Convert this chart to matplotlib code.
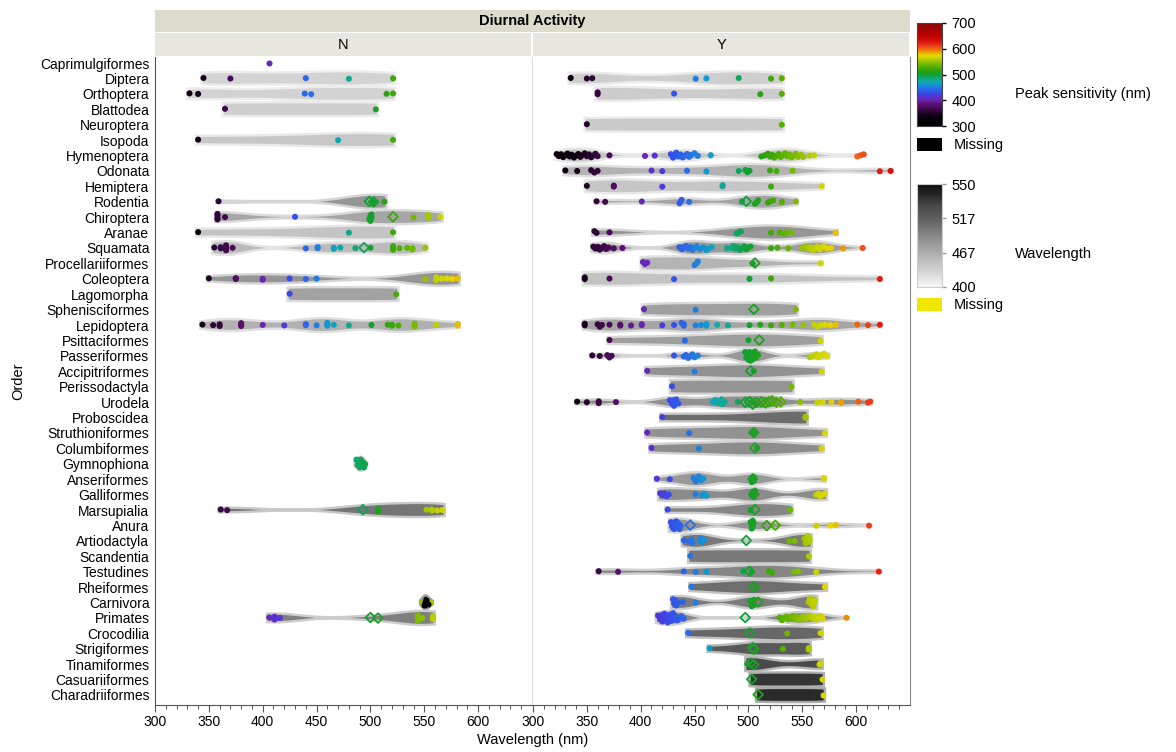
import numpy as np
import matplotlib
matplotlib.use("Agg")
import matplotlib.pyplot as plt
from matplotlib.colors import LinearSegmentedColormap, Normalize
from matplotlib.patches import Rectangle, Polygon

plt.rcParams['font.family'] = ['Liberation Sans', 'DejaVu Sans']

# ---------------------------------------------------------------- data
orders = ["Caprimulgiformes", "Diptera", "Orthoptera", "Blattodea", "Neuroptera",
          "Isopoda", "Hymenoptera", "Odonata", "Hemiptera", "Rodentia", "Chiroptera",
          "Aranae", "Squamata", "Procellariiformes", "Coleoptera", "Lagomorpha",
          "Sphenisciformes", "Lepidoptera", "Psittaciformes", "Passeriformes",
          "Accipitriformes", "Perissodactyla", "Urodela", "Proboscidea",
          "Struthioniformes", "Columbiformes", "Gymnophiona", "Anseriformes",
          "Galliformes", "Marsupialia", "Anura", "Artiodactyla", "Scandentia",
          "Testudines", "Rheiformes", "Carnivora", "Primates", "Crocodilia",
          "Strigiformes", "Tinamiformes", "Casuariiformes", "Charadriiformes"]

# Diurnal activity = N : peak sensitivities (nm), filled markers
n_caprimulgiformes = [406]
n_diptera = [345, 370, 440, 480, 521]
n_orthoptera = [332, 340, 439, 445, 515, 521]
n_blattodea = [365, 505]
n_isopoda = [340, 470, 521]
n_rodentia = [359, 503, 503, 503, 513]
n_chiroptera = [358, 358, 358, 358, 365, 430, 499, 500, 500, 501, 501, 540,
                554, 554, 554, 565]
n_aranae = [340, 480, 521]
n_squamata = [355, 361, 361, 366, 366, 366, 366, 372, 440, 451, 451, 466, 466,
              472, 486, 500, 521, 521, 521, 527, 534, 539, 539, 551]
n_coleoptera = [350, 375, 375, 400, 400, 425, 440, 450, 551, 561, 561, 561,
                566, 571, 576, 581]
n_lagomorpha = [425, 524]
n_lepidoptera = [344, 354, 360, 360, 380, 380, 380, 400, 420, 440, 440, 450,
                 460, 460, 460, 466, 480, 501, 516, 520, 520, 526, 541, 541,
                 541, 561, 581, 581]
n_gymnophiona = [487, 488, 489, 490, 490, 491, 492, 493, 494, 495]
n_marsupialia = [361, 367, 507, 507, 507, 552, 557, 557, 562, 567]
n_carnivora = [548, 556]
n_primates = [406, 411, 411, 411, 416, 544, 544, 544, 544, 548, 558, 558, 558]

# Diurnal activity = N : open markers
n_rodentia_open = [499, 503]
n_chiroptera_open = [521]
n_squamata_open = [494]
n_marsupialia_open = [493]
n_primates_open = [500, 507]

# Diurnal activity = N : wavelength known, peak sensitivity missing
n_carnivora_missing = [550, 551, 552, 553]

# Diurnal activity = Y : filled markers
y_diptera = [335, 350, 355, 451, 461, 491, 521, 531]
y_orthoptera = [360, 360, 431, 511, 531]
y_neuroptera = [350, 531]
y_hymenoptera = [322, 324, 326, 328, 330, 332, 334, 336, 338, 340, 342, 344,
                 346, 348, 350, 352, 354, 356, 358, 360, 371, 404, 413, 428,
                 430, 431, 433, 435, 437, 439, 441, 443, 445, 447, 450, 453,
                 465, 512, 515, 518, 520, 522, 524, 526, 528, 530, 532, 534,
                 536, 538, 540, 542, 544, 546, 549, 551, 557, 561, 601, 604, 607]
y_odonata = [330, 341, 354, 357, 360, 410, 420, 443, 461, 491, 497, 499, 501,
             520, 526, 541, 622, 632]
y_hemiptera = [350, 375, 375, 420, 476, 476, 521, 568]
y_rodentia = [359, 367, 401, 436, 437, 438, 445, 494, 506, 508, 509, 518, 520,
              523, 531, 544]
y_aranae = [357, 359, 371, 489, 491, 493, 521, 529, 533, 535, 540, 581]
y_squamata = [356, 358, 360, 362, 364, 366, 368, 370, 375, 383, 436, 438, 440,
              442, 444, 446, 448, 450, 452, 455, 458, 461, 463, 466, 480, 484,
              486, 488, 490, 492, 494, 496, 498, 500, 502, 521, 527, 537, 550,
              553, 556, 558, 560, 562, 564, 566, 568, 570, 573, 577, 588, 606]
y_procellariiformes = [402, 404, 406, 450, 452, 453, 504, 567]
y_coleoptera = [348, 348, 371, 431, 501, 521, 622]
y_sphenisciformes = [403, 451, 544]
y_lepidoptera = [348, 348, 360, 362, 364, 371, 381, 381, 391, 401, 401, 420,
                 431, 438, 440, 440, 451, 456, 461, 461, 471, 481, 501, 511,
                 521, 531, 541, 551, 561, 564, 567, 571, 576, 581, 601, 611, 622]
y_psittaciformes = [371, 441, 500, 567]
y_passeriformes = [355, 362, 369, 371, 373, 431, 440, 442, 444, 446, 448, 450,
                   453, 497, 498, 499, 500, 500, 501, 501, 502, 502, 503, 503,
                   504, 505, 506, 507, 509, 557, 560, 563, 565, 567, 570, 573]
y_accipitriformes = [406, 450, 505, 568]
y_perissodactyla = [429, 540]
y_urodela = [341, 350, 361, 361, 377, 427, 429, 430, 431, 432, 433, 435, 467,
             469, 471, 473, 476, 478, 490, 505, 548, 564, 569, 577, 586, 586,
             602, 611, 613]
y_proboscidea = [420, 553, 553]
y_struthioniformes = [406, 445, 505, 571]
y_columbiformes = [410, 454, 508, 568]
y_anseriformes = [415, 427, 449, 451, 452, 454, 456, 458, 503, 504, 505, 505,
                  570, 570]
y_galliformes = [418, 420, 422, 424, 426, 451, 457, 459, 461, 503, 504, 505,
                 505, 506, 563, 565, 567, 569, 571]
y_marsupialia = [425, 502, 539]
y_anura = [428, 429, 430, 431, 432, 433, 434, 435, 436, 437, 502, 503, 503,
           504, 504, 505, 563, 576, 581, 612]
y_artiodactyla = [440, 445, 447, 448, 455, 456, 457, 459, 538, 543, 552, 553,
                  554, 555, 556, 557]
y_scandentia = [446, 556]
y_testudines = [361, 379, 440, 451, 461, 495, 503, 519, 522, 542, 546, 563, 621]
y_rheiformes = [447, 507, 571]
y_carnivora = [430, 431, 432, 433, 434, 439, 451, 502, 503, 504, 505, 505, 556,
               557, 558, 559, 560, 561, 562]
y_primates = [416, 418, 419, 420, 421, 422, 423, 424, 425, 426, 427, 428, 429,
              430, 431, 432, 434, 436, 438, 440, 529, 531, 533, 535, 537, 539,
              541, 543, 545, 547, 549, 551, 553, 555, 557, 559, 561, 563, 565,
              567, 569, 591]
y_crocodilia = [444, 536, 567]
y_strigiformes = [464, 532, 556, 556]
y_tinamiformes = [499, 566, 567]
y_casuariiformes = [568]
y_charadriiformes = [569]

# Diurnal activity = Y : open markers
y_rodentia_open = [498]
y_procellariiformes_open = [506]
y_sphenisciformes_open = [505]
y_psittaciformes_open = [510]
y_accipitriformes_open = [502]
y_urodela_open = [475, 497, 501, 504, 507, 512, 516, 519, 522, 526, 530]
y_struthioniformes_open = [505]
y_columbiformes_open = [506]
y_anseriformes_open = [504]
y_galliformes_open = [505]
y_marsupialia_open = [506]
y_anura_open = [446, 517, 525]
y_artiodactyla_open = [498]
y_testudines_open = [501]
y_rheiformes_open = [505]
y_carnivora_open = [509]
y_primates_open = [497]
y_crocodilia_open = [501]
y_strigiformes_open = [504, 505]
y_tinamiformes_open = [502, 505]
y_casuariiformes_open = [503]
y_charadriiformes_open = [509]

panel_labels = ["N", "Y"]
x_ticks = [300, 350, 400, 450, 500, 550, 600]
sens_ticks = [300, 400, 500, 600, 700]
wave_ticks = [400, 467, 517, 550]

# ---------------------------------------------------------------- grouping
panels = {
    "N": {
        "filled": {"Caprimulgiformes": n_caprimulgiformes, "Diptera": n_diptera,
                   "Orthoptera": n_orthoptera, "Blattodea": n_blattodea,
                   "Isopoda": n_isopoda, "Rodentia": n_rodentia,
                   "Chiroptera": n_chiroptera, "Aranae": n_aranae,
                   "Squamata": n_squamata, "Coleoptera": n_coleoptera,
                   "Lagomorpha": n_lagomorpha, "Lepidoptera": n_lepidoptera,
                   "Gymnophiona": n_gymnophiona, "Marsupialia": n_marsupialia,
                   "Carnivora": n_carnivora, "Primates": n_primates},
        "open": {"Rodentia": n_rodentia_open, "Chiroptera": n_chiroptera_open,
                 "Squamata": n_squamata_open, "Marsupialia": n_marsupialia_open,
                 "Primates": n_primates_open},
        "missing": {"Carnivora": n_carnivora_missing},
    },
    "Y": {
        "filled": {"Diptera": y_diptera, "Orthoptera": y_orthoptera,
                   "Neuroptera": y_neuroptera, "Hymenoptera": y_hymenoptera,
                   "Odonata": y_odonata, "Hemiptera": y_hemiptera,
                   "Rodentia": y_rodentia, "Aranae": y_aranae,
                   "Squamata": y_squamata, "Procellariiformes": y_procellariiformes,
                   "Coleoptera": y_coleoptera, "Sphenisciformes": y_sphenisciformes,
                   "Lepidoptera": y_lepidoptera, "Psittaciformes": y_psittaciformes,
                   "Passeriformes": y_passeriformes,
                   "Accipitriformes": y_accipitriformes,
                   "Perissodactyla": y_perissodactyla, "Urodela": y_urodela,
                   "Proboscidea": y_proboscidea,
                   "Struthioniformes": y_struthioniformes,
                   "Columbiformes": y_columbiformes, "Anseriformes": y_anseriformes,
                   "Galliformes": y_galliformes, "Marsupialia": y_marsupialia,
                   "Anura": y_anura, "Artiodactyla": y_artiodactyla,
                   "Scandentia": y_scandentia, "Testudines": y_testudines,
                   "Rheiformes": y_rheiformes, "Carnivora": y_carnivora,
                   "Primates": y_primates, "Crocodilia": y_crocodilia,
                   "Strigiformes": y_strigiformes, "Tinamiformes": y_tinamiformes,
                   "Casuariiformes": y_casuariiformes,
                   "Charadriiformes": y_charadriiformes},
        "open": {"Rodentia": y_rodentia_open,
                 "Procellariiformes": y_procellariiformes_open,
                 "Sphenisciformes": y_sphenisciformes_open,
                 "Psittaciformes": y_psittaciformes_open,
                 "Accipitriformes": y_accipitriformes_open,
                 "Urodela": y_urodela_open,
                 "Struthioniformes": y_struthioniformes_open,
                 "Columbiformes": y_columbiformes_open,
                 "Anseriformes": y_anseriformes_open,
                 "Galliformes": y_galliformes_open,
                 "Marsupialia": y_marsupialia_open, "Anura": y_anura_open,
                 "Artiodactyla": y_artiodactyla_open,
                 "Testudines": y_testudines_open, "Rheiformes": y_rheiformes_open,
                 "Carnivora": y_carnivora_open, "Primates": y_primates_open,
                 "Crocodilia": y_crocodilia_open,
                 "Strigiformes": y_strigiformes_open,
                 "Tinamiformes": y_tinamiformes_open,
                 "Casuariiformes": y_casuariiformes_open,
                 "Charadriiformes": y_charadriiformes_open},
        "missing": {},
    },
}

# ---------------------------------------------------------------- colour scales
spectrum_stops = [
    (300, "#000000"), (340, "#0c000e"), (355, "#2c0634"), (370, "#470a55"),
    (385, "#5e1078"), (400, "#6a26ae"), (415, "#5533d6"), (430, "#3352ec"),
    (445, "#2a6ee6"), (460, "#1296d2"), (470, "#10a8b0"), (485, "#10a87a"),
    (500, "#10a030"), (515, "#2fa012"), (530, "#52b000"), (545, "#80bc00"),
    (555, "#a8c800"), (565, "#ccd400"), (575, "#e6d800"), (585, "#ecaa00"),
    (595, "#ee7a10"), (610, "#ec4418"), (625, "#e01810"), (650, "#c00000"),
    (700, "#8a0a0a")]
sens_norm = Normalize(300, 700)
spectrum = LinearSegmentedColormap.from_list(
    "spectrum", [(sens_norm(v), c) for v, c in spectrum_stops])
MISSING_SENS = "#000000"
MISSING_WAVE = "#f0e600"

# grey ramp of the wavelength scale (value -> grey level)
grey_vals = [400, 430, 450, 470, 485, 500, 517, 530, 540, 550]
grey_levels = [0.97, 0.83, 0.76, 0.66, 0.58, 0.48, 0.37, 0.28, 0.15, 0.06]


def wave_level(v):
    """Position on the wavelength legend bar (0 = bottom, 1 = top)."""
    return float(np.interp(v, wave_ticks, [0.0, 1 / 3, 2 / 3, 1.0]))


def grey_of(v):
    g = float(np.interp(v, grey_vals, grey_levels))
    return (g, g, g)


def violin_profile(vals):
    v = np.asarray(vals, float)
    xs = np.linspace(v.min() - 2.0, v.max() + 2.0, 240)
    bw = max(2.5, 1.4 * v.std() / np.sqrt(len(v)))
    dens = np.exp(-0.5 * ((xs[:, None] - v[None, :]) / bw) ** 2).sum(axis=1)
    hw = 0.46 * np.maximum(dens / dens.max(), 0.1)
    return xs, hw


def jitter_offsets(vals, start=0):
    v = np.asarray(vals, float)
    off = np.zeros(len(v))
    for rank, i in enumerate(np.argsort(v, kind="stable")):
        near = np.sum(np.abs(v - v[i]) <= 3.0)
        amp = min(0.33, 0.03 + 0.06 * (near - 1))
        off[i] = amp * (2 * (((rank + start) * 0.6180339887) % 1.0) - 1)
    return off


# ---------------------------------------------------------------- figure
W, H = 1176, 752
fig = plt.figure(figsize=(W / 100, H / 100), dpi=100)


def fx(px):
    return px / W


def fy(py):
    return 1 - py / H


top, bottom = 57, 705
panel_px = {"N": (155, 532), "Y": (533, 910)}
row_of = {name: i for i, name in enumerate(orders)}

axes = {}
for key in panel_labels:
    x0, x1 = panel_px[key]
    ax = fig.add_axes([fx(x0), fy(bottom), (x1 - x0) / W, (bottom - top) / H])
    axes[key] = ax
    ax.set_xlim(300, 650)
    ax.set_ylim(len(orders) - 1 + 0.65, -0.39)
    ax.set_xticks(x_ticks)
    ax.set_xticks(np.arange(300, 650, 10), minor=True)
    ax.tick_params(axis="x", which="major", length=5, width=0.8, color="#555555",
                   labelsize=10, pad=2)
    ax.tick_params(axis="x", which="minor", length=3, width=0.7, color="#555555")
    ax.spines["top"].set_visible(False)
    ax.spines["bottom"].set_color("#555555")

    data = panels[key]
    for name in orders:
        filled = data["filled"].get(name, [])
        opened = data["open"].get(name, [])
        missing = data["missing"].get(name, [])
        allv = list(filled) + list(opened) + list(missing)
        if not allv:
            continue
        r = row_of[name]
        if len(allv) >= 2:
            xs, hw = violin_profile(allv)
            fill = grey_of(np.mean(allv))
            edge = tuple(0.4 * c + 0.6 for c in fill)
            poly = np.column_stack([np.concatenate([xs, xs[::-1]]),
                                    np.concatenate([r - hw, (r + hw)[::-1]])])
            ax.add_patch(Polygon(poly, closed=True, facecolor=fill,
                                 edgecolor=edge, linewidth=1.7, zorder=2))
        if filled:
            f = np.asarray(filled, float)
            ax.scatter(f, r + jitter_offsets(f), s=19, c=spectrum(sens_norm(f)),
                       linewidths=0, zorder=3)
        if missing:
            m = np.asarray(missing, float)
            ax.scatter(m, r + jitter_offsets(m, 3), s=19, c=MISSING_SENS,
                       linewidths=0, zorder=3)
        if opened:
            o = np.asarray(opened, float)
            ax.scatter(o, r + jitter_offsets(o, 5), s=24, marker="D",
                       facecolors="none", edgecolors=spectrum(sens_norm(o)),
                       linewidths=1.3, zorder=4)

ax_n, ax_y = axes["N"], axes["Y"]
ax_n.set_yticks(range(len(orders)))
ax_n.set_yticklabels(orders, fontsize=10)
ax_n.tick_params(axis="y", length=0, pad=4)
ax_n.spines["left"].set_color("#555555")
ax_n.spines["right"].set_color("#dddddd")
ax_y.set_yticks([])
ax_y.spines["left"].set_visible(False)
ax_y.spines["right"].set_color("#8a8a8a")

fig.text(fx(18), fy(381), "Order", rotation=90, ha="center", va="center",
         fontsize=10.5)
fig.text(fx(533), fy(740), "Wavelength (nm)", ha="center", va="center",
         fontsize=10.5)

# header bands
fig.patches.append(Rectangle((fx(155), fy(32)), (910 - 155) / W, 22 / H,
                             transform=fig.transFigure, facecolor="#dcdbcc",
                             edgecolor="none"))
fig.text(fx(532), fy(21), "Diurnal Activity", ha="center", va="center",
         fontsize=10.5, fontweight="bold")
for key in panel_labels:
    x0, x1 = panel_px[key]
    fig.patches.append(Rectangle((fx(x0), fy(56)), (x1 - x0 - 1) / W, 23 / H,
                                 transform=fig.transFigure, facecolor="#e8e7df",
                                 edgecolor="none"))
    fig.text(fx((x0 + x1) / 2), fy(45), key, ha="center", va="center",
             fontsize=10.5)

# peak sensitivity colour bar
cax1 = fig.add_axes([fx(917), fy(126), 25 / W, 103 / H])
grad = np.linspace(300, 700, 256).reshape(-1, 1)
cax1.imshow(spectrum(sens_norm(grad)), extent=[0, 1, 300, 700], origin="lower",
            aspect="auto")
cax1.set_xlim(0, 1)
cax1.set_ylim(300, 700)
cax1.set_xticks([])
cax1.yaxis.tick_right()
cax1.set_yticks(sens_ticks)
cax1.set_yticklabels([str(t) for t in sens_ticks], fontsize=10.5)
cax1.tick_params(axis="y", length=3, width=1, pad=4)
for tick, val in zip(cax1.yaxis.get_major_ticks(), sens_ticks):
    tick.tick2line.set_color(spectrum(sens_norm(val)))
for sp in cax1.spines.values():
    sp.set_color("#444444")
    sp.set_linewidth(0.8)
fig.patches.append(Rectangle((fx(917), fy(151)), 25 / W, 13 / H,
                             transform=fig.transFigure, facecolor=MISSING_SENS,
                             edgecolor="none"))
fig.text(fx(954), fy(145), "Missing", ha="left", va="center", fontsize=10.5)
fig.text(fx(1015), fy(94), "Peak sensitivity (nm)", ha="left", va="center",
         fontsize=10.5)

# wavelength grey bar
cax2 = fig.add_axes([fx(917), fy(287), 25 / W, 103 / H])
pos = np.linspace(0, 1, 256)
bar_vals = np.interp(pos, [0.0, 1 / 3, 2 / 3, 1.0], wave_ticks)
levels = np.interp(bar_vals, grey_vals, grey_levels).reshape(-1, 1)
greys = np.repeat(levels[:, :, None], 3, axis=2)
cax2.imshow(greys, extent=[0, 1, 0, 1], origin="lower", aspect="auto")
cax2.set_xlim(0, 1)
cax2.set_ylim(0, 1)
cax2.set_xticks([])
cax2.yaxis.tick_right()
cax2.set_yticks([wave_level(t) for t in wave_ticks])
cax2.set_yticklabels([str(t) for t in wave_ticks], fontsize=10.5)
cax2.tick_params(axis="y", length=3, width=1, pad=4, color="#999999")
for sp in cax2.spines.values():
    sp.set_color("#cccccc")
    sp.set_linewidth(0.8)
fig.patches.append(Rectangle((fx(917), fy(311)), 25 / W, 13 / H,
                             transform=fig.transFigure, facecolor=MISSING_WAVE,
                             edgecolor="none"))
fig.text(fx(954), fy(305), "Missing", ha="left", va="center", fontsize=10.5)
fig.text(fx(1015), fy(254), "Wavelength", ha="left", va="center", fontsize=10.5)

fig.savefig("out.png", dpi=100)
